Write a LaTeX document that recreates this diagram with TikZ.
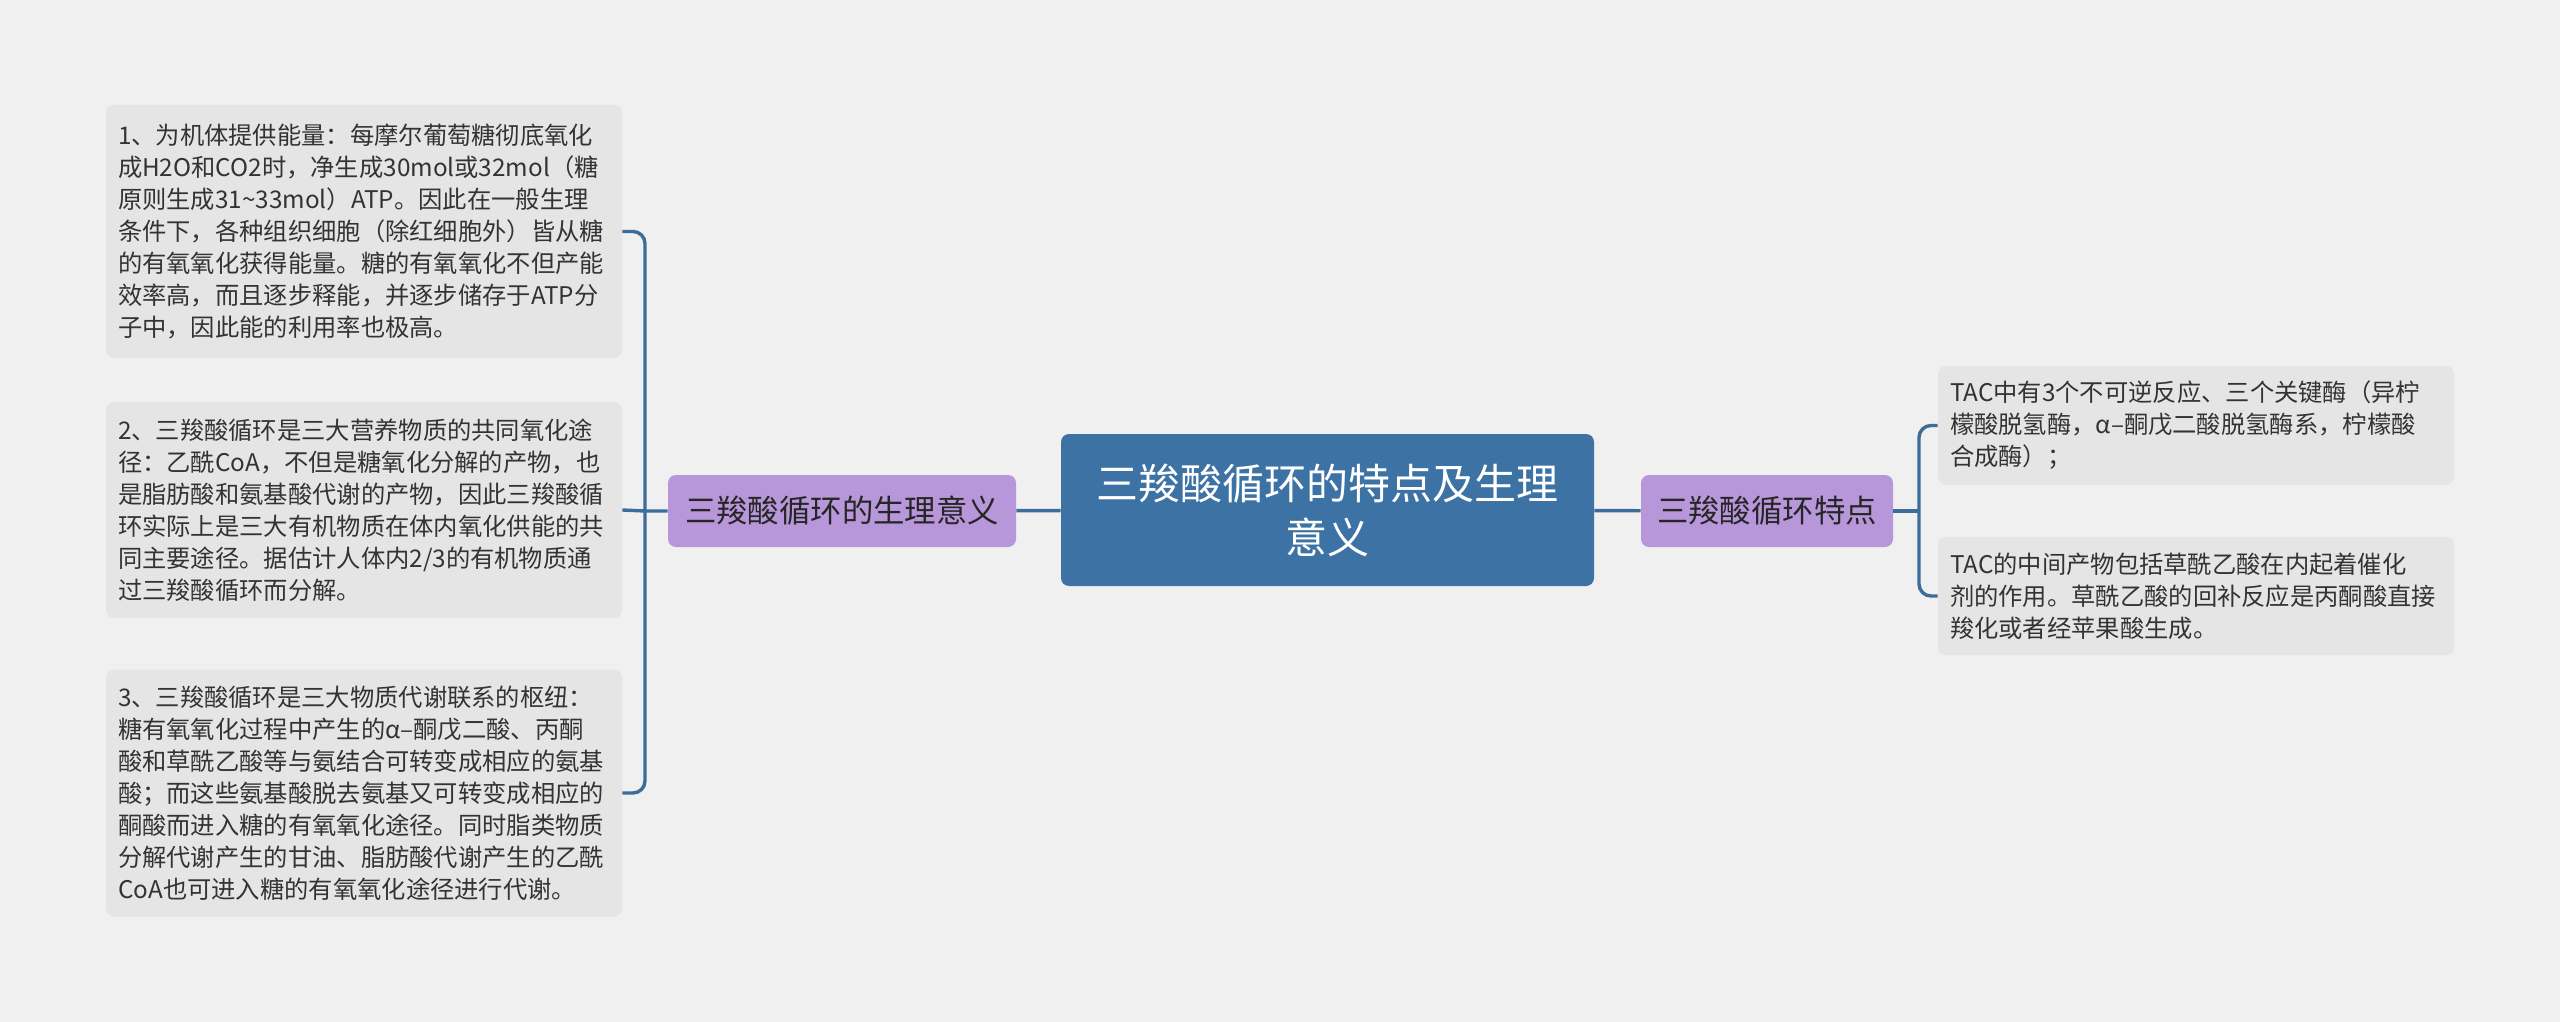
\documentclass[tikz,border=0pt]{standalone}
\usepackage{fontspec}
\setmainfont{Noto Sans CJK SC}
\usepackage{tikz}
\usepackage{xcolor}
\definecolor{bgcol}{HTML}{F0F0F0}
\definecolor{corecol}{HTML}{3D72A4}
\definecolor{subcol}{HTML}{B797D9}
\definecolor{leafcol}{HTML}{E5E5E5}
\definecolor{linkcol}{HTML}{3C6D9A}
\definecolor{txtcol}{HTML}{333333}

\begin{document}
\begin{tikzpicture}[x=0.5pt,y=-0.5pt,
  core/.style={fill=corecol,rounded corners=4pt,inner sep=0pt,text=white,align=center,
    minimum width=266.5pt,minimum height=76pt,font=\fontsize{21}{27}\selectfont},
  sub/.style={fill=subcol,rounded corners=4pt,inner sep=0pt,text=black!85,
    minimum height=36pt,font=\fontsize{15.7}{18}\selectfont},
  leaf/.style={fill=leafcol,rounded corners=4pt,inner xsep=6pt,inner ysep=0pt,text=txtcol,
    text width=246pt,align=left,font=\fontsize{12.15}{16}\selectfont},
  link/.style={draw=linkcol,line width=1.7pt}]
  \useasboundingbox[fill=bgcol] (0,0) rectangle (2560,1022);

  \node (core) at (1327.5,510) [core] {三羧酸循环的特点及生理\\意义};
  \node (mean) at (842,511) [sub,minimum width=174pt] {三羧酸循环的生理意义};
  \node (feat) at (1767,511) [sub,minimum width=126pt] {三羧酸循环特点};

  \node (L1) at (364,231.5) [leaf,minimum height=126.5pt] {1、为机体提供能量：每摩尔葡萄糖彻底氧化\\
    成H2O和CO2时，净生成30mol或32mol（糖\\
    原则生成31\textasciitilde33mol）ATP。因此在一般生理\\
    条件下，各种组织细胞（除红细胞外）皆从糖\\
    的有氧氧化获得能量。糖的有氧氧化不但产能\\
    效率高，而且逐步释能，并逐步储存于ATP分\\
    子中，因此能的利用率也极高。};
  \node (L2) at (364,510) [leaf,minimum height=108pt] {2、三羧酸循环是三大营养物质的共同氧化途\\
    径：乙酰CoA，不但是糖氧化分解的产物，也\\
    是脂肪酸和氨基酸代谢的产物，因此三羧酸循\\
    环实际上是三大有机物质在体内氧化供能的共\\
    同主要途径。据估计人体内2/3的有机物质通\\
    过三羧酸循环而分解。};
  \node (L3) at (364,793) [leaf,minimum height=123.5pt] {3、三羧酸循环是三大物质代谢联系的枢纽：\\
    糖有氧氧化过程中产生的α–酮戊二酸、丙酮\\
    酸和草酰乙酸等与氨结合可转变成相应的氨基\\
    酸；而这些氨基酸脱去氨基又可转变成相应的\\
    酮酸而进入糖的有氧氧化途径。同时脂类物质\\
    分解代谢产生的甘油、脂肪酸代谢产生的乙酰\\
    CoA也可进入糖的有氧氧化途径进行代谢。};

  \node (R1) at (2196,425.5) [leaf,minimum height=59.5pt] {TAC中有3个不可逆反应、三个关键酶（异柠\\
    檬酸脱氢酶，α–酮戊二酸脱氢酶系，柠檬酸\\
    合成酶）；};
  \node (R2) at (2196,596) [leaf,minimum height=59pt] {TAC的中间产物包括草酰乙酸在内起着催化\\
    剂的作用。草酰乙酸的回补反应是丙酮酸直接\\
    羧化或者经苹果酸生成。};

  \coordinate (lj) at (645,511);
  \coordinate (rj) at (1919,511);

  % main branches
  \draw[link] (mean) -- (core) -- (feat);

  % left fork
  \draw[link] (mean) -- (lj) -- (L2.east);
  \draw[link,rounded corners=6pt] (L1.east) -| (lj) |- (L3.east);

  % right fork
  \draw[link] (feat) -- (rj);
  \draw[link,rounded corners=6pt] (R1.west) -| (rj) |- (R2.west);
\end{tikzpicture}
\end{document}
